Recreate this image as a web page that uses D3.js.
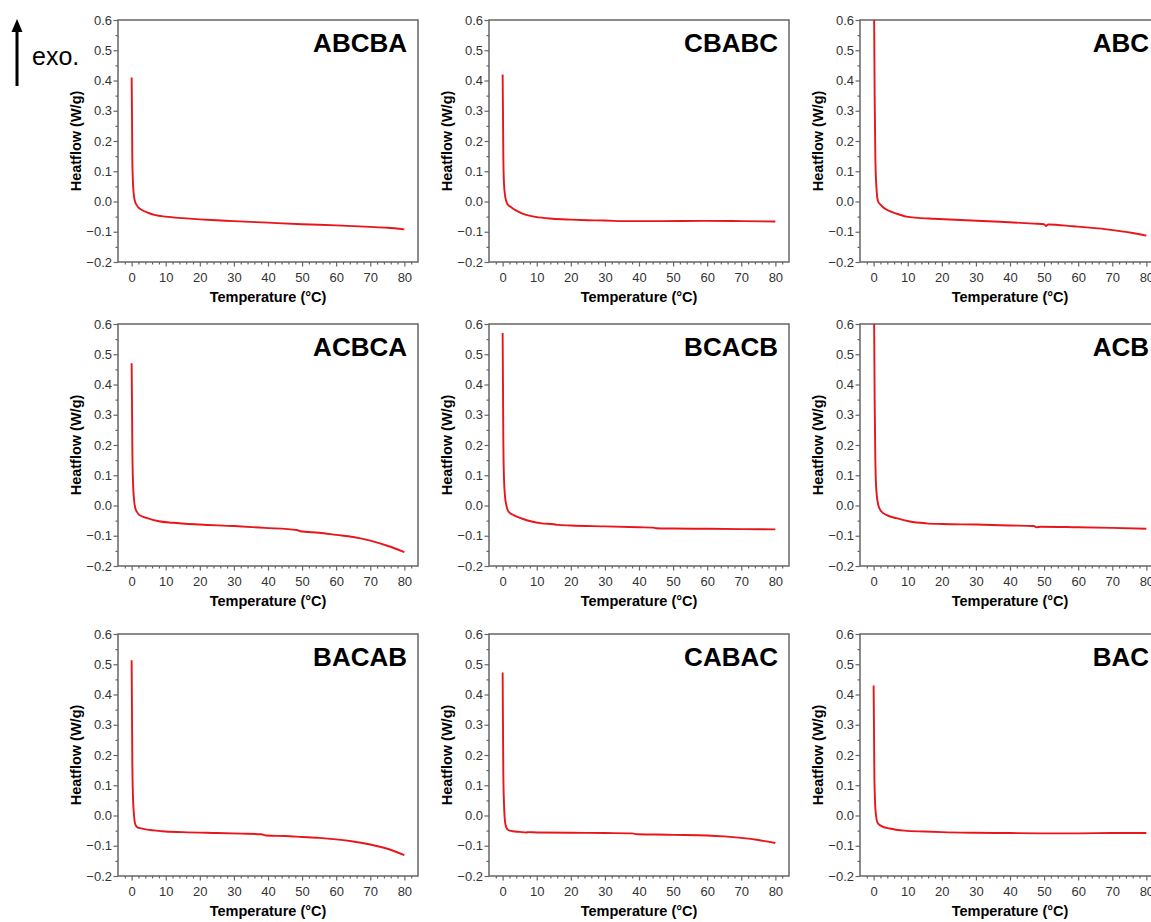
<!DOCTYPE html>
<html>
<head>
<meta charset="utf-8">
<script src="https://cdn.jsdelivr.net/npm/d3@7"></script>
<style>
  body { margin: 0; background: #fff; }
  svg { display: block; font-family: "Liberation Sans", Arial, sans-serif; }
</style>
</head>
<body>
<svg id="chart" width="1151" height="922"></svg>
<script>
// panel titles, row by row
const panelNames = ["ABCBA", "CBABC", "ABC", "ACBCA", "BCACB", "ACB", "BACAB", "CABAC", "BAC"];

// [temperature (°C), heatflow (W/g)]
const abcba = [[0, 0.41], [0.1, 0.3], [0.2, 0.14], [0.4, 0.06], [0.6, 0.027], [1.0, 0.0], [1.5, -0.012], [2, -0.02], [3, -0.028], [5, -0.038], [7, -0.045], [10, -0.05], [15, -0.055], [20, -0.059], [25, -0.062], [30, -0.065], [40, -0.07], [50, -0.075], [60, -0.079], [70, -0.084], [75, -0.087], [80, -0.092]];
const cbabc = [[0, 0.42], [0.1, 0.3], [0.2, 0.15], [0.4, 0.06], [0.7, 0.02], [1.1, 0.0], [1.5, -0.01], [2.4, -0.018], [4, -0.03], [5.8, -0.04], [9.7, -0.051], [14.6, -0.057], [20, -0.06], [25, -0.062], [30, -0.063], [37, -0.065], [45, -0.065], [60, -0.064], [70, -0.065], [80, -0.066]];
const abc = [[0, 0.75], [0.15, 0.6], [0.3, 0.35], [0.5, 0.15], [0.8, 0.05], [1.3, 0.0], [2, -0.01], [2.7, -0.018], [4, -0.028], [6.7, -0.04], [9.6, -0.05], [13, -0.054], [17.5, -0.057], [27, -0.062], [37, -0.067], [47, -0.073], [50, -0.075], [50.5, -0.081], [51.2, -0.076], [58.6, -0.082], [68.4, -0.092], [76, -0.104], [80, -0.113]];
const acbca = [[0, 0.47], [0.1, 0.35], [0.2, 0.2], [0.4, 0.08], [0.7, 0.02], [1.1, -0.01], [1.6, -0.022], [2.2, -0.031], [4.6, -0.042], [8, -0.052], [12, -0.057], [20, -0.063], [30, -0.068], [39, -0.074], [48.5, -0.081], [49.5, -0.085], [55, -0.09], [60, -0.097], [65, -0.104], [70, -0.116], [75, -0.133], [80, -0.154]];
const bcacb = [[0, 0.57], [0.1, 0.4], [0.2, 0.22], [0.4, 0.09], [0.7, 0.03], [1.1, 0.0], [1.7, -0.02], [3.2, -0.032], [5.6, -0.043], [8.5, -0.053], [11.5, -0.059], [15, -0.062], [16, -0.064], [20, -0.066], [30, -0.069], [40, -0.072], [44, -0.073], [45, -0.075], [50, -0.076], [60, -0.077], [70, -0.078], [80, -0.079]];
const acb = [[0, 0.75], [0.15, 0.6], [0.3, 0.35], [0.5, 0.15], [0.8, 0.05], [1.4, 0.0], [2.3, -0.02], [3.7, -0.031], [6.7, -0.042], [10.6, -0.053], [15.5, -0.059], [20, -0.061], [30, -0.063], [40, -0.066], [47, -0.068], [47.8, -0.072], [49, -0.07], [60, -0.072], [70, -0.074], [80, -0.077]];
const bacab = [[0, 0.513], [0.1, 0.35], [0.2, 0.18], [0.4, 0.06], [0.7, 0.0], [1.1, -0.03], [1.6, -0.038], [2.5, -0.042], [4.2, -0.046], [9, -0.052], [15, -0.055], [25, -0.058], [32, -0.06], [38, -0.062], [39.5, -0.066], [45, -0.068], [50, -0.071], [55, -0.074], [60, -0.079], [65, -0.086], [70, -0.096], [75, -0.11], [80, -0.131]];
const cabac = [[0, 0.473], [0.1, 0.3], [0.2, 0.14], [0.4, 0.04], [0.7, -0.02], [1.1, -0.04], [1.6, -0.048], [3, -0.052], [5, -0.054], [7, -0.056], [7.5, -0.055], [10, -0.056], [20, -0.057], [30, -0.058], [38, -0.059], [39.5, -0.062], [45, -0.063], [50, -0.064], [60, -0.066], [65, -0.069], [70, -0.074], [75, -0.081], [80, -0.091]];
const bac = [[0, 0.43], [0.1, 0.3], [0.2, 0.15], [0.4, 0.05], [0.7, 0.0], [1.2, -0.025], [2.3, -0.035], [4.7, -0.043], [9, -0.05], [15, -0.053], [20, -0.055], [30, -0.057], [40, -0.058], [50, -0.059], [60, -0.059], [70, -0.058], [80, -0.058]];

const series = [abcba, cbabc, abc, acbca, bcacb, acb, bacab, cabac, bac];

const xTicks = [0, 10, 20, 30, 40, 50, 60, 70, 80];
const xMinor = [-2, 2, 4, 6, 8, 12, 14, 16, 18, 22, 24, 26, 28, 32, 34, 36, 38, 42, 44, 46, 48, 52, 54, 56, 58, 62, 64, 66, 68, 72, 74, 76, 78, 82];
const yTicks = [-0.2, -0.1, 0.0, 0.1, 0.2, 0.3, 0.4, 0.5, 0.6];
const yMinor = [-0.15, -0.05, 0.05, 0.15, 0.25, 0.35, 0.45, 0.55];

const svg = d3.select("#chart");
svg.append("rect").attr("width", 1151).attr("height", 922).attr("fill", "#fff");

const colLeft = [118, 489, 860];
const rowTop = [20, 324, 634];
const w = 300, h = 242;
const frameColor = "#666";

const x = d3.scaleLinear().domain([-4, 84]).range([0, w]);
const y = d3.scaleLinear().domain([-0.2, 0.6]).range([h, 0]);

const line = d3.line()
    .x(d => x(d[0]))
    .y(d => y(d[1]))
    .curve(d3.curveMonotoneX);

function styleAxis(sel) {
    sel.select(".domain").remove();
    sel.selectAll("line").attr("stroke", frameColor).attr("stroke-width", 1.2);
    sel.selectAll("text").attr("fill", "#333").style("font-size", "13px");
}

panelNames.forEach((name, i) => {
    const g = svg.append("g")
        .attr("transform", `translate(${colLeft[i % 3]},${rowTop[Math.floor(i / 3)]})`);

    g.append("clipPath").attr("id", "clip" + i)
        .append("rect").attr("width", w).attr("height", h);

    // minor ticks
    g.append("g").attr("transform", `translate(0,${h})`)
        .call(d3.axisBottom(x).tickValues(xMinor).tickSize(2.5).tickFormat(""))
        .call(styleAxis);
    g.append("g")
        .call(d3.axisLeft(y).tickValues(yMinor).tickSize(2.5).tickFormat(""))
        .call(styleAxis);

    // major ticks
    g.append("g").attr("transform", `translate(0,${h})`)
        .call(d3.axisBottom(x).tickValues(xTicks).tickSize(4.5).tickPadding(6.5))
        .call(styleAxis);
    g.append("g")
        .call(d3.axisLeft(y).tickValues(yTicks).tickSize(4.5).tickPadding(1.5).tickFormat(d3.format(".1f")))
        .call(styleAxis);

    g.append("rect")
        .attr("width", w).attr("height", h)
        .attr("fill", "none")
        .attr("stroke", frameColor)
        .attr("stroke-width", 1.5);

    g.append("path")
        .datum(series[i])
        .attr("clip-path", `url(#clip${i})`)
        .attr("fill", "none")
        .attr("stroke", "#e8161b")
        .attr("stroke-width", 1.9)
        .attr("stroke-linejoin", "round")
        .attr("d", line);

    g.append("text")
        .attr("x", w - 11).attr("y", 32)
        .attr("text-anchor", "end")
        .style("font-size", "26px").style("font-weight", "bold")
        .text(name);

    g.append("text")
        .attr("x", w / 2).attr("y", h + 40)
        .attr("text-anchor", "middle")
        .style("font-size", "14.5px").style("font-weight", "bold")
        .text("Temperature (°C)");

    g.append("text")
        .attr("transform", `translate(-37,${h / 2}) rotate(-90)`)
        .attr("text-anchor", "middle")
        .style("font-size", "14.5px").style("font-weight", "bold")
        .text("Heatflow (W/g)");
});

// exo. arrow
svg.append("line")
    .attr("x1", 17).attr("y1", 86).attr("x2", 17).attr("y2", 29)
    .attr("stroke", "#000").attr("stroke-width", 3);
svg.append("path")
    .attr("d", "M17,19 L11.5,32 L22.5,32 Z")
    .attr("fill", "#000");
svg.append("text")
    .attr("x", 32).attr("y", 65)
    .style("font-size", "25px")
    .text("exo.");
</script>
</body>
</html>
